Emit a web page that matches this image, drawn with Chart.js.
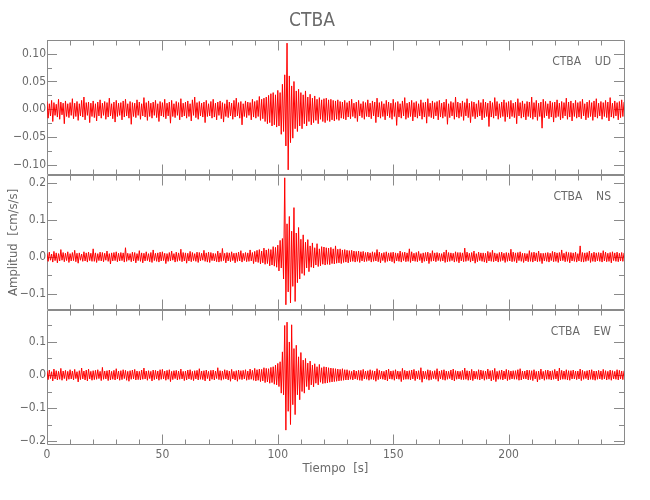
<!DOCTYPE html>
<html>
<head>
<meta charset="utf-8">
<script src="https://cdn.jsdelivr.net/npm/chart.js@4/dist/chart.umd.min.js"></script>
<style>
  html, body { margin: 0; background: #fff; }
</style>
</head>
<body>
<canvas id="sismo" width="650" height="500"></canvas>
<script>
// ============= data: per-second max / min of each trace (cm/s/s) =============
const stationName = 'CTBA';
const panelNames = ['CTBA    UD', 'CTBA    NS', 'CTBA    EW'];

const udHigh = [
  .014,.010,.016,.012,.009,.018,.013,.011,.015,.010, .012,.019,.011,.014,.010,.016,.022,.012,.013,.011,
  .015,.010,.013,.017,.011,.014,.012,.020,.010,.013, .016,.011,.012,.015,.018,.010,.014,.012,.011,.017,
  .013,.010,.021,.012,.015,.011,.013,.016,.010,.014, .012,.018,.011,.013,.016,.010,.014,.012,.019,.011,
  .013,.015,.010,.017,.022,.012,.014,.011,.013,.016, .010,.014,.018,.011,.013,.015,.012,.010,.017,.013,
  .011,.016,.020,.012,.014,.010,.015,.013,.012,.018, .014,.016,.023,.018,.020,.022,.025,.028,.030,.026,
  .034,.030,.045,.062,.119,.060,.042,.050,.033,.036, .030,.026,.033,.022,.027,.020,.024,.018,.021,.017,
  .019,.020,.017,.018,.016,.015,.017,.014,.013,.016, .012,.015,.018,.011,.013,.016,.010,.014,.012,.017,
  .011,.015,.013,.020,.012,.014,.010,.016,.013,.011, .018,.012,.014,.010,.015,.021,.011,.013,.016,.012,
  .014,.010,.017,.012,.013,.019,.011,.015,.012,.014, .016,.011,.013,.018,.010,.014,.012,.022,.013,.011,
  .015,.012,.019,.011,.014,.013,.010,.016,.012,.018, .013,.011,.015,.012,.021,.014,.010,.013,.017,.012,
  .014,.016,.011,.013,.019,.012,.015,.010,.014,.013, .022,.012,.016,.011,.013,.018,.014,.010,.015,.012,
  .013,.017,.011,.014,.012,.020,.013,.015,.011,.016, .012,.014,.018,.010,.013,.016,.012,.015,.019,.011,
  .014,.012,.016,.013,.021,.011,.015,.012,.014,.017, .013
];
const udLow = [
  -.016,-.012,-.022,-.011,-.014,-.018,-.010,-.026,-.013,-.015, -.011,-.017,-.013,-.020,-.012,-.014,-.019,-.011,-.024,-.013,
  -.015,-.021,-.012,-.016,-.011,-.018,-.014,-.012,-.017,-.023, -.013,-.011,-.019,-.014,-.012,-.016,-.027,-.013,-.015,-.011,
  -.018,-.012,-.014,-.020,-.013,-.016,-.011,-.015,-.022,-.012, -.014,-.017,-.012,-.025,-.013,-.015,-.011,-.019,-.014,-.012,
  -.016,-.013,-.021,-.011,-.015,-.018,-.012,-.014,-.024,-.013, -.012,-.016,-.014,-.019,-.011,-.017,-.023,-.013,-.015,-.012,
  -.018,-.014,-.012,-.016,-.028,-.013,-.015,-.011,-.019,-.014, -.016,-.013,-.020,-.017,-.022,-.026,-.024,-.030,-.028,-.032,
  -.030,-.045,-.040,-.066,-.109,-.060,-.052,-.035,-.040,-.030, -.035,-.026,-.030,-.022,-.028,-.024,-.020,-.026,-.018,-.022,
  -.024,-.020,-.022,-.019,-.021,-.018,-.020,-.016,-.017,-.019, -.014,-.017,-.013,-.016,-.022,-.012,-.015,-.018,-.013,-.014,
  -.017,-.012,-.024,-.014,-.016,-.013,-.019,-.012,-.015,-.018, -.013,-.029,-.014,-.016,-.012,-.018,-.015,-.013,-.021,-.014,
  -.016,-.012,-.018,-.014,-.025,-.013,-.015,-.017,-.012,-.019, -.014,-.016,-.013,-.027,-.015,-.012,-.018,-.014,-.016,-.013,
  -.020,-.012,-.015,-.024,-.013,-.017,-.014,-.012,-.019,-.015, -.013,-.031,-.014,-.016,-.012,-.018,-.015,-.013,-.022,-.014,
  -.017,-.013,-.015,-.026,-.012,-.016,-.014,-.019,-.013,-.015, -.018,-.014,-.020,-.013,-.034,-.015,-.012,-.017,-.014,-.023,
  -.015,-.013,-.019,-.016,-.012,-.018,-.014,-.021,-.013,-.016, -.014,-.017,-.012,-.019,-.015,-.013,-.020,-.014,-.016,-.012,
  -.018,-.013,-.015,-.021,-.014,-.016,-.012,-.019,-.015,-.013, -.017
];

const nsHigh = [
  .010,.013,.008,.015,.011,.009,.020,.012,.010,.014, .009,.012,.018,.010,.011,.008,.014,.011,.013,.010,
  .022,.011,.009,.013,.012,.010,.016,.009,.011,.012, .014,.010,.012,.011,.025,.010,.009,.013,.012,.009,
  .017,.011,.010,.014,.009,.012,.019,.010,.011,.013, .014,.010,.009,.012,.016,.009,.013,.011,.021,.012,
  .011,.010,.015,.012,.009,.013,.012,.010,.018,.011, .013,.012,.010,.009,.016,.011,.023,.010,.012,.011,
  .014,.010,.011,.013,.017,.010,.012,.011,.019,.012, .015,.018,.020,.016,.024,.019,.022,.020,.028,.026,
  .032,.045,.050,.215,.090,.110,.070,.134,.065,.080, .048,.060,.040,.047,.030,.038,.025,.036,.022,.028,
  .027,.025,.024,.026,.022,.030,.021,.022,.019,.020, .018,.017,.018,.016,.015,.016,.014,.015,.012,.013,
  .011,.014,.012,.020,.013,.010,.012,.014,.011,.012, .013,.011,.010,.016,.012,.013,.011,.022,.014,.010,
  .012,.015,.009,.011,.012,.013,.010,.017,.011,.012, .010,.009,.013,.019,.012,.011,.010,.014,.012,.012,
  .011,.024,.013,.010,.012,.016,.009,.013,.011,.011, .010,.015,.012,.018,.011,.009,.012,.013,.010,.012,
  .011,.021,.013,.011,.012,.014,.010,.010,.009,.017, .012,.013,.011,.016,.010,.010,.011,.012,.010,.015,
  .013,.011,.012,.019,.010,.014,.012,.012,.011,.013, .009,.030,.012,.011,.012,.016,.010,.013,.011,.012,
  .011,.017,.013,.010,.012,.014,.011,.013,.010,.012, .011
];
const nsLow = [
  -.012,-.009,-.014,-.010,-.016,-.011,-.009,-.013,-.010,-.015, -.011,-.010,-.013,-.017,-.009,-.012,-.011,-.014,-.010,-.012,
  -.012,-.015,-.010,-.011,-.013,-.009,-.012,-.019,-.011,-.010, -.013,-.011,-.010,-.014,-.012,-.009,-.013,-.011,-.016,-.010,
  -.012,-.016,-.011,-.010,-.013,-.015,-.010,-.012,-.014,-.011, -.010,-.018,-.012,-.011,-.009,-.014,-.012,-.010,-.013,-.011,
  -.017,-.011,-.013,-.010,-.012,-.015,-.011,-.009,-.012,-.014, -.015,-.010,-.011,-.013,-.014,-.012,-.010,-.016,-.011,-.013,
  -.010,-.016,-.012,-.011,-.014,-.010,-.013,-.012,-.011,-.018, -.013,-.015,-.019,-.016,-.020,-.018,-.024,-.022,-.025,-.028,
  -.038,-.030,-.060,-.130,-.095,-.125,-.080,-.121,-.070,-.060, -.045,-.050,-.030,-.040,-.028,-.030,-.022,-.026,-.024,-.020,
  -.022,-.020,-.021,-.018,-.019,-.017,-.016,-.018,-.015,-.014, -.016,-.013,-.012,-.014,-.012,-.015,-.011,-.013,-.012,-.010,
  -.014,-.012,-.011,-.013,-.016,-.010,-.015,-.012,-.011,-.013, -.017,-.011,-.012,-.014,-.010,-.013,-.012,-.015,-.011,-.012,
  -.013,-.010,-.016,-.012,-.011,-.018,-.012,-.011,-.013,-.010, -.012,-.011,-.015,-.013,-.012,-.010,-.014,-.012,-.016,-.011,
  -.013,-.012,-.010,-.014,-.011,-.017,-.013,-.010,-.012,-.014, -.016,-.011,-.012,-.013,-.011,-.014,-.012,-.010,-.015,-.012,
  -.011,-.013,-.012,-.016,-.010,-.012,-.015,-.011,-.013,-.012, -.014,-.011,-.013,-.012,-.018,-.011,-.012,-.014,-.010,-.013,
  -.012,-.015,-.011,-.010,-.013,-.012,-.016,-.011,-.012,-.014, -.011,-.013,-.014,-.012,-.010,-.015,-.012,-.013,-.011,-.012,
  -.014,-.011,-.013,-.012,-.016,-.010,-.012,-.013,-.011,-.012, -.013
];

const ewHigh = [
  .012,.015,.010,.018,.013,.011,.020,.012,.014,.011, .016,.012,.017,.010,.013,.021,.012,.015,.018,.011,
  .013,.014,.016,.011,.023,.012,.013,.015,.011,.014, .019,.012,.013,.016,.014,.011,.013,.015,.017,.012,
  .011,.015,.021,.012,.013,.011,.015,.014,.012,.016, .017,.012,.014,.016,.011,.013,.014,.012,.018,.011,
  .012,.015,.016,.011,.013,.014,.019,.012,.013,.015, .011,.014,.015,.012,.022,.013,.012,.016,.014,.012,
  .017,.011,.013,.015,.013,.014,.016,.012,.018,.014, .020,.016,.018,.017,.022,.020,.019,.023,.025,.030,
  .035,.040,.070,.150,.160,.100,.152,.080,.090,.055, .068,.045,.050,.036,.042,.030,.034,.025,.032,.022,
  .025,.024,.022,.021,.020,.019,.018,.017,.019,.016, .016,.013,.011,.015,.012,.014,.014,.017,.012,.013,
  .016,.013,.012,.019,.014,.012,.011,.015,.018,.012, .013,.016,.012,.011,.020,.014,.012,.013,.015,.017,
  .012,.013,.022,.012,.011,.016,.014,.011,.013,.019, .012,.014,.016,.012,.011,.015,.018,.013,.012,.011,
  .014,.021,.013,.012,.017,.012,.011,.016,.015,.013, .012,.018,.013,.014,.020,.011,.013,.015,.012,.017,
  .014,.012,.013,.013,.016,.019,.012,.012,.015,.014, .013,.016,.011,.012,.018,.011,.014,.015,.012,.013,
  .017,.012,.021,.014,.012,.016,.013,.013,.015,.012, .012,.018,.014,.011,.013,.015,.016,.012,.012,.014,
  .012,.017,.013,.011,.015,.013,.011,.016,.014,.012, .013
];
const ewLow = [
  -.014,-.011,-.018,-.012,-.015,-.013,-.016,-.011,-.017,-.013, -.012,-.015,-.011,-.021,-.014,-.012,-.015,-.018,-.012,-.016,
  -.014,-.013,-.011,-.017,-.013,-.012,-.017,-.015,-.013,-.015, -.012,-.016,-.014,-.011,-.016,-.019,-.013,-.012,-.015,-.014,
  -.015,-.013,-.012,-.016,-.011,-.018,-.014,-.012,-.016,-.013, -.012,-.016,-.013,-.020,-.014,-.011,-.015,-.013,-.012,-.017,
  -.015,-.012,-.014,-.017,-.012,-.015,-.013,-.014,-.018,-.011, -.018,-.013,-.015,-.011,-.014,-.016,-.013,-.012,-.015,-.019,
  -.012,-.015,-.019,-.013,-.014,-.012,-.016,-.014,-.013,-.016, -.018,-.016,-.020,-.018,-.023,-.021,-.025,-.023,-.028,-.030,
  -.035,-.055,-.060,-.167,-.110,-.150,-.090,-.120,-.060,-.075, -.050,-.055,-.035,-.045,-.030,-.036,-.025,-.030,-.022,-.026,
  -.025,-.024,-.022,-.021,-.020,-.019,-.018,-.017,-.016,-.015, -.015,-.013,-.015,-.012,-.014,-.016,-.017,-.012,-.013,-.016,
  -.013,-.014,-.019,-.014,-.012,-.013,-.015,-.018,-.012,-.013, -.016,-.012,-.013,-.020,-.014,-.013,-.013,-.015,-.012,-.017,
  -.012,-.014,-.022,-.012,-.013,-.016,-.014,-.011,-.013,-.019, -.012,-.014,-.016,-.013,-.011,-.015,-.018,-.013,-.012,-.014,
  -.014,-.013,-.016,-.015,-.017,-.012,-.013,-.015,-.012,-.016, -.013,-.012,-.018,-.014,-.020,-.013,-.013,-.015,-.012,-.017,
  -.014,-.012,-.013,-.013,-.016,-.015,-.012,-.012,-.015,-.014, -.017,-.012,-.021,-.014,-.012,-.016,-.013,-.013,-.015,-.013,
  -.012,-.018,-.014,-.013,-.013,-.015,-.016,-.012,-.012,-.014, -.012,-.017,-.013,-.011,-.015,-.013,-.014,-.016,-.013,-.012,
  -.014,-.012,-.015,-.013,-.016,-.012,-.013,-.015,-.012,-.014, -.013
];

const sampleStep = 1; // s, one max/min pair per second
const times = udHigh.map((_, i) => i * sampleStep);

const xTicks = [0, 50, 100, 150, 200];
const udTicks = [-0.10, -0.05, 0, 0.05, 0.10];
const nsTicks = [-0.1, 0, 0.1, 0.2];
const ewTicks = [-0.2, -0.1, 0, 0.1];

// ============= styling =============
const axisColor = '#8a8a8a';
const textColor = '#6a6a6a';
const traceColor = '#ff0000';
const fontFam = "'Liberation Sans Narrow', 'DejaVu Sans Condensed', sans-serif";

// panels listed bottom to top (stacked axes are laid out in reverse)
const panels = [
  { id: 'yEW', name: panelNames[2], hi: ewHigh, lo: ewLow, ticks: ewTicks, min: -0.212, max: 0.197, minor: 0.05, digits: 1 },
  { id: 'yNS', name: panelNames[1], hi: nsHigh, lo: nsLow, ticks: nsTicks, min: -0.144, max: 0.223, minor: 0.05, digits: 1 },
  { id: 'yUD', name: panelNames[0], hi: udHigh, lo: udLow, ticks: udTicks, min: -0.118, max: 0.125, minor: 0.025, digits: 2 }
];

function fmt(v, d) {
  const s = Math.abs(v).toFixed(d);
  return v < -1e-9 ? '\u2212' + s : s;
}

// trace as max then min inside every second -> dense wiggle
function tracePoints(p) {
  const pts = [];
  times.forEach((t, i) => {
    pts.push({ x: t, y: p.hi[i] });
    pts.push({ x: t + sampleStep / 2, y: p.lo[i] });
  });
  return pts;
}

const scales = {
  x: {
    type: 'linear', min: 0, max: 250,
    afterBuildTicks: s => { s.ticks = xTicks.map(v => ({ value: v })); },
    grid: { display: false, drawTicks: false },
    border: { display: false },
    ticks: { padding: 3, color: textColor, font: { family: fontFam, size: 12 }, maxRotation: 0, autoSkip: false, callback: v => String(v) },
    title: { display: true, text: 'Tiempo  [s]', color: textColor, font: { family: fontFam, size: 13 }, padding: { top: 0, bottom: 24 } },
    afterFit: s => { s.height = 55; }
  }
};
panels.forEach(p => {
  scales[p.id] = {
    type: 'linear', position: 'left', stack: 'sismo', stackWeight: 1,
    min: p.min, max: p.max,
    afterBuildTicks: s => { s.ticks = p.ticks.map(v => ({ value: v })); },
    grid: { display: false, drawTicks: false },
    border: { display: false },
    ticks: { padding: 1, color: textColor, font: { family: fontFam, size: 12 }, autoSkip: false, callback: v => fmt(v, p.digits) },
    title: { display: p.id === 'yNS', text: 'Amplitud  [cm/s/s]', color: textColor, font: { family: fontFam, size: 13 }, padding: { top: 6, bottom: 0 } },
    afterFit: s => { s.width = 47; }
  };
});

// ============= frame + IDL style ticks =============
const framePlugin = {
  id: 'frame',
  beforeDatasetsDraw(chart) {
    const ctx = chart.ctx;
    const { left, right } = chart.chartArea;
    const xs = chart.scales.x;
    const c = v => Math.round(v) + 0.5;
    ctx.save();
    ctx.strokeStyle = axisColor;
    ctx.lineWidth = 1;
    ctx.beginPath();
    panels.forEach(p => {
      const s = chart.scales[p.id];
      const top = c(s.top), bottom = c(s.bottom) - 1;
      ctx.rect(c(left), top, c(right) - c(left), bottom - top);
      const isMajor = v => p.ticks.some(t => Math.abs(t - v) < 1e-6);
      for (let v = Math.ceil(p.min / p.minor) * p.minor; v <= p.max; v += p.minor) {
        const len = isMajor(v) ? 10 : 5;
        const y = c(s.getPixelForValue(v));
        ctx.moveTo(left, y); ctx.lineTo(left + len, y);
        ctx.moveTo(right, y); ctx.lineTo(right - len, y);
      }
      for (let v = 10; v < 250; v += 10) {
        const len = xTicks.includes(v) ? 10 : 5;
        const x = c(xs.getPixelForValue(v));
        ctx.moveTo(x, top); ctx.lineTo(x, top + len);
        ctx.moveTo(x, bottom); ctx.lineTo(x, bottom - len);
      }
    });
    ctx.stroke();
    ctx.restore();
  },
  afterDatasetsDraw(chart) {
    const ctx = chart.ctx;
    const { right } = chart.chartArea;
    ctx.save();
    ctx.fillStyle = textColor;
    ctx.font = '12px ' + fontFam;
    ctx.textAlign = 'right';
    ctx.textBaseline = 'middle';
    panels.forEach(p => {
      const s = chart.scales[p.id];
      ctx.fillText(p.name, right - 13, s.top + 22);
    });
    ctx.restore();
  }
};

new Chart(document.getElementById('sismo').getContext('2d'), {
  type: 'line',
  data: {
    datasets: panels.map(p => ({
      label: p.name,
      data: tracePoints(p),
      yAxisID: p.id,
      borderColor: traceColor,
      borderWidth: 1,
      pointRadius: 0,
      tension: 0
    }))
  },
  options: {
    responsive: false,
    animation: false,
    layout: { padding: { top: 0, right: 26, bottom: 0, left: 0 } },
    plugins: {
      legend: { display: false },
      tooltip: { enabled: false },
      title: { display: true, text: stationName, color: textColor, font: { family: fontFam, size: 19, weight: 'normal' }, padding: { top: 10, bottom: 7 } }
    },
    scales: scales
  },
  plugins: [framePlugin]
});
</script>
</body>
</html>
